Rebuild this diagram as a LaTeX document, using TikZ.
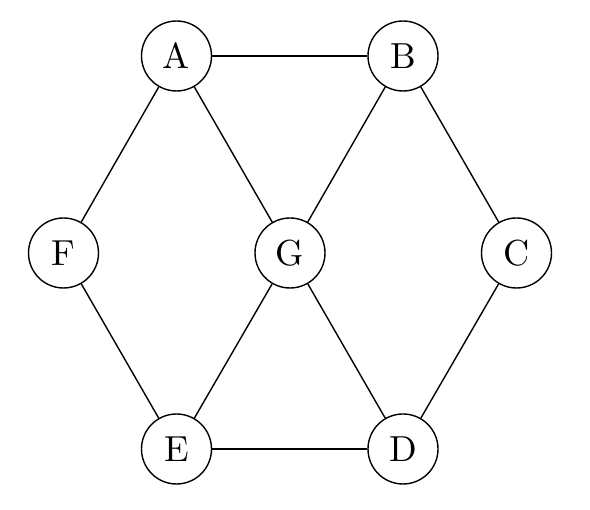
\documentclass[tikz,border=0pt]{standalone}
\newcommand{\vlbl}[1]{\scalebox{3.62}{\fontsize{10}{12}\selectfont #1}}
\begin{document}
\begin{tikzpicture}[x=1pt,y=1pt,
  vtx/.style={circle,draw,line width=1.4pt,minimum size=70pt,inner sep=0pt},
  edge/.style={line width=1.4pt}]
\useasboundingbox (0,0) rectangle (590,510);
\node[vtx] (A) at (176.5,454) {\vlbl{A}};
\node[vtx] (B) at (403,454) {\vlbl{B}};
\node[vtx] (F) at (63.5,257) {\vlbl{F}};
\node[vtx] (G) at (290,257) {\vlbl{G}};
\node[vtx] (C) at (516.5,257) {\vlbl{C}};
\node[vtx] (E) at (176.5,61) {\vlbl{E}};
\node[vtx] (D) at (403,61) {\vlbl{D}};
\draw[edge] (A) -- (B);
\draw[edge] (A) -- (F);
\draw[edge] (A) -- (G);
\draw[edge] (B) -- (G);
\draw[edge] (B) -- (C);
\draw[edge] (F) -- (E);
\draw[edge] (G) -- (E);
\draw[edge] (G) -- (D);
\draw[edge] (C) -- (D);
\draw[edge] (E) -- (D);
\end{tikzpicture}
\end{document}
